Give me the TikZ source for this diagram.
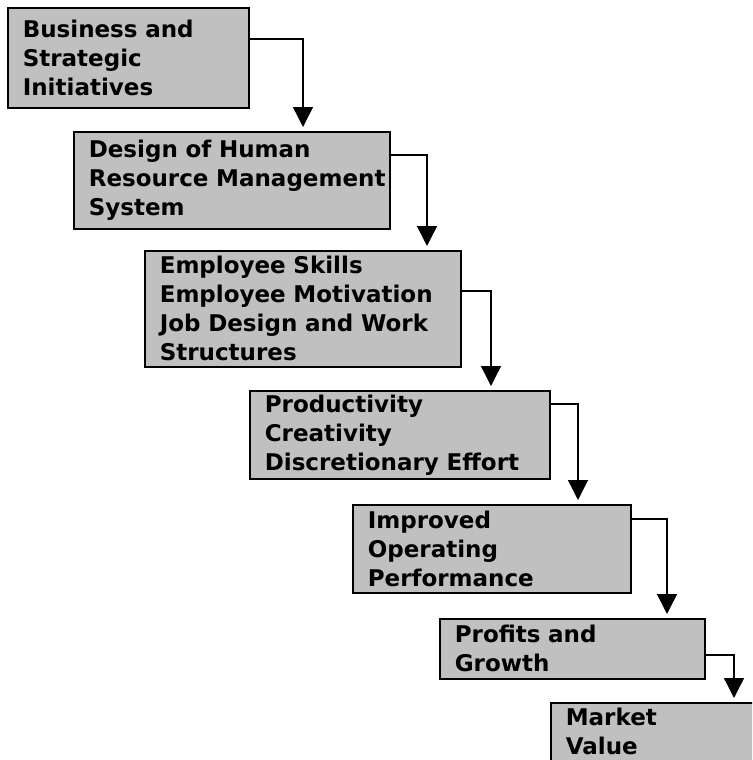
\documentclass[tikz,border=0pt]{standalone}
\usepackage{fontspec}
\setmainfont{DejaVu Sans}
\usetikzlibrary{arrows.meta,positioning}
\definecolor{boxgray}{HTML}{C0C0C0}

\begin{document}
\begin{tikzpicture} [
      x = 1pt, y = -1pt,
      every node/.style = {font = \bfseries\fontsize{23}{29}\selectfont},
      stage/.style = {draw, line width = 1.6pt, fill = boxgray, anchor = north west,
                      align = left, inner xsep = 15pt, inner ysep = 0pt},
      flow/.style = {line width = 1.4pt, shorten > = 4pt,
                     -{Triangle[width = 20pt, length = 20pt]}}
      ]

  \useasboundingbox (0,0) rectangle (752,760);
  \clip (0,0) rectangle (752,760);

  \node [stage, text width = 211pt, minimum height = 100pt] (business) at (7,7)
    {Business and\\Strategic\\Initiatives\par\vspace*{14pt}};
  \node [stage, text width = 286pt, minimum height = 97pt] (hrm) at (73,131)
    {Design of Human\\\mbox{Resource Management}\\System};
  \node [stage, text width = 286pt, minimum height = 116pt] (skills) at (144,250)
    {Employee Skills\\Employee Motivation\\Job Design and Work\\Structures};
  \node [stage, text width = 270pt, minimum height = 88pt] (perf) at (249,390)
    {Productivity\\Creativity\\Discretionary Effort};
  \node [stage, text width = 248pt, minimum height = 88pt] (operating) at (352,504)
    {Improved\\Operating\\Performance};
  \node [stage, text width = 235pt, minimum height = 60pt] (profits) at (439,618)
    {Profits and\\Growth};
  \node [stage, text width = 190pt, minimum height = 58pt] (market) at (550,702)
    {Market\\Value};

  % elbow corners of the connectors
  \coordinate (c1) at (303,39);
  \coordinate (c2) at (427,155);
  \coordinate (c3) at (491,291);
  \coordinate (c4) at (578,404);
  \coordinate (c5) at (667,519);
  \coordinate (c6) at (734,655);

  \draw [flow] (business.east |- c1) -- (c1) -- (c1 |- hrm.north);
  \draw [flow] (hrm.east |- c2) -- (c2) -- (c2 |- skills.north);
  \draw [flow] (skills.east |- c3) -- (c3) -- (c3 |- perf.north);
  \draw [flow] (perf.east |- c4) -- (c4) -- (c4 |- operating.north);
  \draw [flow] (operating.east |- c5) -- (c5) -- (c5 |- profits.north);
  \draw [flow] (profits.east |- c6) -- (c6) -- (c6 |- market.north);
\end{tikzpicture}
\end{document}
